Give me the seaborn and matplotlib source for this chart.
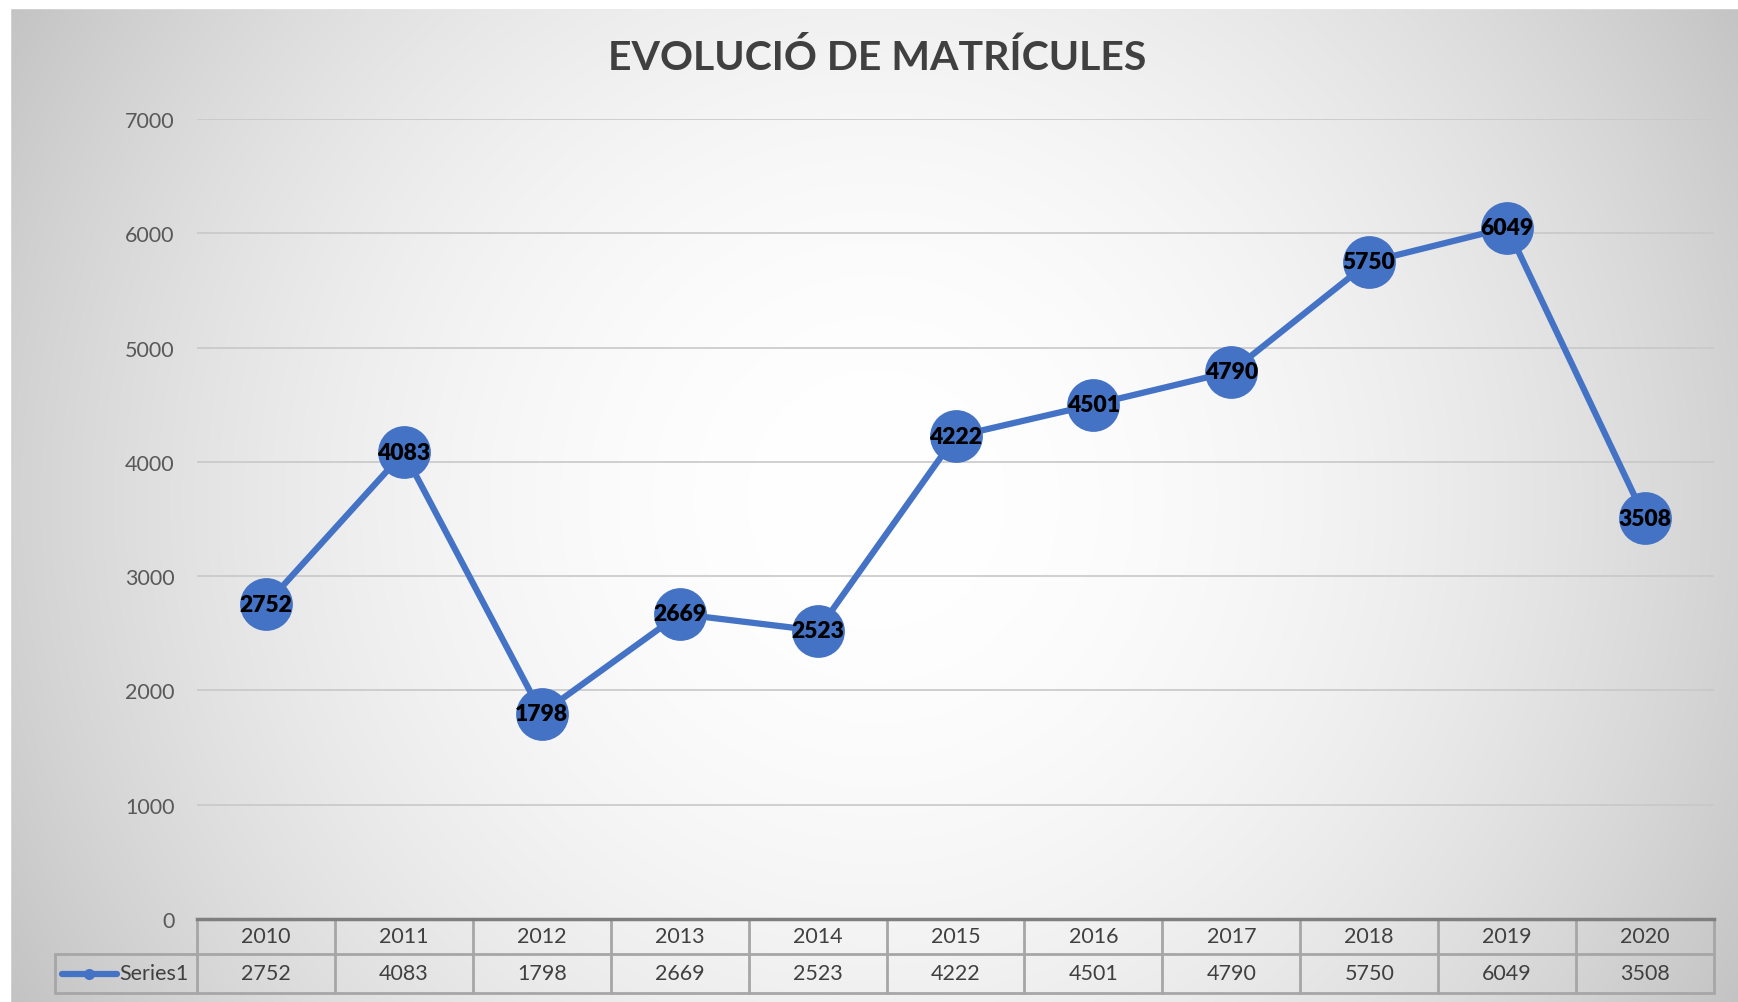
import numpy as np
import pandas as pd
import seaborn as sns
from matplotlib import pyplot as plt
from matplotlib.patches import Rectangle
from matplotlib.lines import Line2D
import matplotlib.transforms as mtransforms

years = ["2010", "2011", "2012", "2013", "2014", "2015", "2016", "2017", "2018", "2019", "2020"]
matricules = [2752, 4083, 1798, 2669, 2523, 4222, 4501, 4790, 5750, 6049, 3508]
series_name = "Series1"
title = "EVOLUCIÓ DE MATRÍCULES"
y_ticks = [0, 1000, 2000, 3000, 4000, 5000, 6000, 7000]

blue = "#4472C4"
text_grey = "#595959"
font = "Lato"

sns.set_style("white")
plt.rcParams["font.family"] = [font, "DejaVu Sans"]

W, H = 1738, 1003
fig = plt.figure(figsize=(W / 100, H / 100), dpi=100)

# radial grey background behind the chart
bg = fig.add_axes([0, 0, 1, 1], zorder=-10)
bg.set_axis_off()
yy, xx = np.mgrid[0:H, 0:W]
cx, cy = 876, 500
d = np.sqrt((xx - cx) ** 2 + (yy - cy) ** 2) / np.sqrt(cx**2 + cy**2)
shade = 1 - 0.24 * np.clip(d, 0, 1) ** 2.0
img = np.dstack([shade, shade, shade])
bg.imshow(img, extent=[0, W, H, 0], aspect="auto", interpolation="bilinear")
bg.add_patch(Rectangle((10, 9), W, H, facecolor="none", edgecolor="#D0D0D0", lw=1))
bg.fill_between([0, W], 0, 9, color="white")
bg.fill_between([0, 10], 0, H, color="white")
bg.set_xlim(0, W)
bg.set_ylim(H, 0)

ax = fig.add_axes([197 / W, 1 - 920 / H, (1714 - 197) / W, 800 / H])
ax.patch.set_alpha(0)

df = pd.DataFrame({"year": years, "value": matricules})
sns.pointplot(
    data=df, x="year", y="value", color=blue, markers="o",
    markersize=38, linewidth=4.5, errorbar=None, ax=ax, zorder=3,
)
for line in ax.lines:
    line.set_markeredgewidth(0)
    line.set_solid_capstyle("round")

for i, v in enumerate(matricules):
    ax.text(i, v, str(v), ha="center", va="center", fontsize=16.5,
            fontweight="heavy", color="black", zorder=5)

ax.set_ylim(0, 7000)
ax.set_xlim(-0.5, len(years) - 0.5)
ax.set_yticks(y_ticks)
ax.yaxis.grid(True, color="#C8C8C8", lw=1.2)
ax.set_axisbelow(True)
ax.tick_params(axis="y", length=0, pad=16, labelsize=15.5, labelcolor=text_grey)
ax.set_xticks([])
ax.set_xlabel("")
ax.set_ylabel("")
for s in ["top", "right", "left"]:
    ax.spines[s].set_visible(False)
ax.spines["bottom"].set_color("#7F7F7F")
ax.spines["bottom"].set_linewidth(2.5)

fig.text(0.5045, 1 - 58 / H, title, ha="center", va="center", fontsize=29.5,
         fontweight="bold", color="#404040")

# data table under the axis
tr = mtransforms.blended_transform_factory(ax.transData, ax.transAxes)
r1 = -35 / 800
r2 = -74 / 800
border = "#A6A6A6"
n = len(years)
kw = dict(transform=tr, clip_on=False, color=border, lw=2)
ax.add_line(Line2D([-0.5, n - 0.5], [r1, r1], **kw))
ax.add_line(Line2D([-1.53, n - 0.5], [r2, r2], **kw))
ax.add_line(Line2D([-1.53, -0.5], [r1, r1], **kw))
ax.add_line(Line2D([-1.53, -1.53], [r1, r2], **kw))
for k in range(n + 1):
    ax.add_line(Line2D([k - 0.5, k - 0.5], [0, r2], **kw))
for i, (yr, v) in enumerate(zip(years, matricules)):
    ax.text(i, r1 / 2, yr, transform=tr, ha="center", va="center",
            fontsize=15.5, color="#404040")
    ax.text(i, (r1 + r2) / 2, str(v), transform=tr, ha="center", va="center",
            fontsize=15.5, color="#404040")

# legend key in the table
ax.add_line(Line2D([-1.48, -1.08], [(r1 + r2) / 2] * 2, transform=tr, clip_on=False,
                   color=blue, lw=4.5, solid_capstyle="round"))
ax.add_line(Line2D([-1.28], [(r1 + r2) / 2], transform=tr, clip_on=False,
                   color=blue, marker="o", markersize=8, mew=0))
ax.text(-0.56, (r1 + r2) / 2, series_name, transform=tr, ha="right", va="center",
        fontsize=15.5, color="#404040")

fig.savefig("out.png", dpi=100)
